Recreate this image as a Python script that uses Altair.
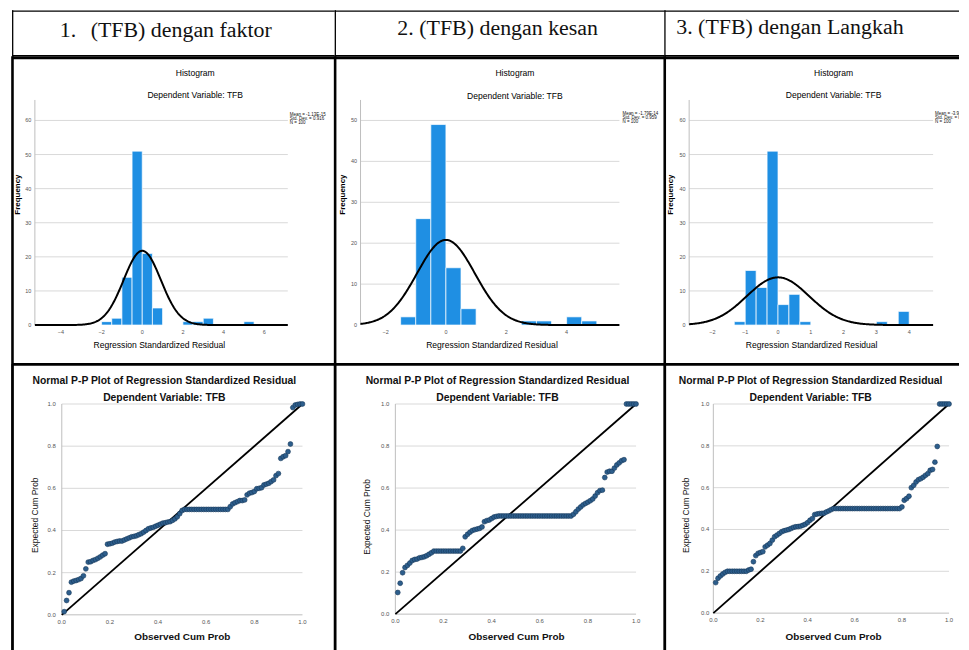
import altair as alt
import pandas as pd

# ---------------- text ----------------
HEAD_NUM = ["1.", "2.", "3."]
HEAD_TXT = ["(TFB) dengan faktor", "(TFB) dengan kesan", "(TFB) dengan Langkah"]
HIST_TITLE = "Histogram"
DEP_TITLE = "Dependent Variable: TFB"
HIST_XTITLE = "Regression Standardized Residual"
HIST_YTITLE = "Frequency"
PP_TITLE = "Normal P-P Plot of Regression Standardized Residual"
PP_XTITLE = "Observed Cum Prob"
PP_YTITLE = "Expected Cum Prob"

# ---------------- histogram data ----------------
h1_start = [-2.0, -1.5, -1.0, -0.5, 0.0, 0.5, 2.0, 2.5, 3.0, 5.0]
h1_count = [1, 2, 14, 51, 21, 5, 1, 1, 2, 1]
h1_binw = 0.5
h1_mean, h1_sd, h1_n = -1.13e-15, 0.916, 100
h1_stats = ["Mean = -1.13E-15", "Std. Dev. = 0.916", "N = 100"]
h1_xticks = [-4, -2, 0, 2, 4, 6]
h1_yticks = [0, 10, 20, 30, 40, 50, 60]

h2_start = [-1.5, -1.0, -0.5, 0.0, 0.5, 2.5, 3.0, 4.0, 4.5]
h2_count = [2, 26, 49, 14, 4, 1, 1, 2, 1]
h2_binw = 0.5
h2_mean, h2_sd, h2_n = -1.79e-14, 0.959, 100
h2_stats = ["Mean = -1.79E-14", "Std. Dev. = 0.959", "N = 100"]
h2_xticks = [-2, 0, 2, 4]
h2_yticks = [0, 10, 20, 30, 40, 50]

h3_start = [-1.333, -1.0, -0.667, -0.333, 0.0, 0.333, 0.667, 3.0, 3.667]
h3_count = [1, 16, 11, 51, 6, 9, 1, 1, 4]
h3_binw = 0.333
h3_mean, h3_sd, h3_n = -3.90e-15, 0.950, 100
h3_stats = ["Mean = -3.90E-15", "Std. Dev. = 0.950", "N = 100"]
h3_xticks = [-2, -1, 0, 1, 2, 3, 4]
h3_yticks = [0, 10, 20, 30, 40, 50, 60]

# ---------------- P-P plot data (expected cum prob, in rank order) ----------------
pp1_expected = (
    [0.015, 0.068, 0.105, 0.155, 0.160, 0.163, 0.167, 0.172, 0.185, 0.218,
     0.250, 0.252, 0.258, 0.262, 0.268, 0.275, 0.283, 0.290, 0.335, 0.337,
     0.340, 0.345, 0.348, 0.350, 0.350, 0.355, 0.360, 0.365, 0.370, 0.372,
     0.375, 0.380, 0.385, 0.392, 0.400, 0.408, 0.412, 0.415, 0.420, 0.425,
     0.430, 0.435, 0.437, 0.440, 0.442, 0.448, 0.455, 0.465, 0.480, 0.495]
    + [0.500] * 19
    + [0.513, 0.526, 0.532, 0.537, 0.542, 0.542, 0.545, 0.569, 0.577, 0.580,
       0.585, 0.598, 0.600, 0.603, 0.616, 0.620, 0.624, 0.632, 0.640, 0.660,
       0.670, 0.742, 0.750, 0.755, 0.774, 0.810, 0.983, 0.995, 0.998, 1.000,
       1.000]
)
pp2_expected = (
    [0.103, 0.147, 0.197, 0.222, 0.232, 0.243, 0.255, 0.260, 0.262, 0.268,
     0.270, 0.273, 0.278, 0.285, 0.292]
    + [0.300] * 12
    + [0.313, 0.368, 0.380, 0.390, 0.398, 0.402, 0.405, 0.408, 0.415, 0.440,
       0.445, 0.448, 0.455, 0.462, 0.465]
    + [0.467] * 31
    + [0.475, 0.487, 0.500, 0.510, 0.520, 0.527, 0.533, 0.540, 0.548, 0.562,
       0.578, 0.588, 0.590, 0.650, 0.676, 0.680, 0.680, 0.695, 0.710, 0.720,
       0.730, 0.735]
    + [1.000] * 5
)
pp3_expected = (
    [0.146, 0.167, 0.178, 0.187, 0.195]
    + [0.200] * 9
    + [0.206, 0.210, 0.246, 0.275, 0.286, 0.290, 0.294, 0.317, 0.325, 0.333,
       0.349, 0.365, 0.373, 0.381, 0.389, 0.394, 0.397, 0.400, 0.405, 0.410,
       0.413, 0.414, 0.416, 0.420, 0.425, 0.433, 0.444, 0.452, 0.471, 0.474,
       0.476, 0.477, 0.478, 0.484, 0.489, 0.495]
    + [0.500] * 29
    + [0.508, 0.540, 0.548, 0.559, 0.600, 0.611, 0.627, 0.638, 0.643, 0.650,
       0.659, 0.667, 0.683, 0.687, 0.722, 0.797]
    + [1.000] * 5
)
pp_ticks = [0.0, 0.2, 0.4, 0.6, 0.8, 1.0]

# ---------------- style ----------------
F_SERIF = "Liberation Serif, Times New Roman, serif"
F_SANS = "Liberation Sans, Arial, sans-serif"
BAR = "#1f8fe3"
GRID = "#d9d9d9"
AXL = "#bdbdbd"
PT_FILL = "#2d5e8c"
PT_STROKE = "#163859"
TXT = "#111111"
TICK = "#555555"
ONE = alt.Data(values=[{"a": 1}])

COLW = [324, 331, 296]
HH, HISTH, PPH = 46, 309, 295


def txt(s, x, y, size, font, weight="normal", align="center", angle=0,
        color=TXT, baseline="middle", clip=False):
    return alt.Chart(ONE).mark_text(
        text=s, fontSize=size, font=font, fontWeight=weight, align=align,
        baseline=baseline, angle=angle, color=color, clip=clip
    ).encode(x=alt.value(x), y=alt.value(y))


def hline(y, x1, x2, w, color="black"):
    return alt.Chart(ONE).mark_rule(color=color, strokeWidth=w).encode(
        y=alt.value(y), x=alt.value(x1), x2=alt.value(x2))


def vline(x, y1, y2, w, color="black"):
    return alt.Chart(ONE).mark_rule(color=color, strokeWidth=w).encode(
        x=alt.value(x), y=alt.value(y1), y2=alt.value(y2))


def full_scales(W, H, plot, xdom, ydom):
    pl, pr, pt, pb = plot
    d0, d1 = xdom
    e0, e1 = ydom
    kx = (d1 - d0) / (pr - pl)
    ky = (e1 - e0) / (pb - pt)
    xs = alt.Scale(domain=[d0 - pl * kx, d1 + (W - pr) * kx], nice=False, zero=False)
    ys = alt.Scale(domain=[e0 - (H - pb) * ky, e1 + pt * ky], nice=False, zero=False)
    return xs, ys


def tick_labels(xs, ys, xticks, yticks, x_at, y_at, fmt, size, dy, dx, font):
    xl = alt.Chart(pd.DataFrame({"v": xticks})).mark_text(
        fontSize=size, font=font, color=TICK, dy=dy, baseline="middle", align="center"
    ).encode(x=alt.X("v:Q", scale=xs, axis=None), y=alt.Y(datum=y_at, scale=ys, axis=None),
             text=alt.Text("v:Q", format=fmt))
    yl = alt.Chart(pd.DataFrame({"v": yticks})).mark_text(
        fontSize=size, font=font, color=TICK, dx=dx, baseline="middle", align="right"
    ).encode(x=alt.X(datum=x_at, scale=xs, axis=None), y=alt.Y("v:Q", scale=ys, axis=None),
             text=alt.Text("v:Q", format=fmt))
    return [xl, yl]


# ---------------- header cells ----------------
def header_cell(i, W, numx, txtx, base):
    layers = [
        hline(0.75, 0, W, 1.3), vline(0.7, 0, HH, 1.3), hline(45.5, 0, W, 1.3),
        txt(HEAD_NUM[i], numx, base, 22, F_SERIF, align="left", baseline="alphabetic"),
        txt(HEAD_TXT[i], txtx, base, 22, F_SERIF, align="left", baseline="alphabetic"),
    ]
    return alt.layer(*layers).properties(width=W, height=HH)


headers = [
    header_cell(0, COLW[0], 48, 79, 27),
    header_cell(1, COLW[1], 63, 85, 25),
    header_cell(2, COLW[2], 12, 34, 24),
]


# ---------------- histogram cells ----------------
def hist_cell(W, starts, counts, bw, mean, sd, n, stats, xticks, yticks,
              plot, xdom, ymax, tx, xt_x, fx, legx, legy, depy):
    H = HISTH
    pl, pr, pt, pb = plot
    xs, ys = full_scales(W, H, plot, xdom, [0, ymax])
    d0, d1 = xdom
    grid = alt.Chart(pd.DataFrame({"v": yticks[1:]})).mark_rule(
        color=GRID, strokeWidth=1).encode(
        y=alt.Y("v:Q", scale=ys, axis=None),
        x=alt.X(datum=d0, scale=xs, axis=None), x2=alt.X2(datum=d1))
    yaxis_line = alt.Chart(ONE).mark_rule(color=AXL, strokeWidth=1).encode(
        x=alt.X(datum=d0, scale=xs, axis=None),
        y=alt.Y(datum=0, scale=ys, axis=None), y2=alt.Y2(datum=ymax))
    bars = alt.Chart(pd.DataFrame({"start": starts, "count": counts})).transform_calculate(
        end=f"datum.start + {bw}"
    ).mark_bar(color=BAR, stroke="white", strokeWidth=0.7).encode(
        x=alt.X("start:Q", scale=xs, axis=None),
        x2="end:Q",
        y=alt.Y("count:Q", scale=ys, axis=None),
        y2=alt.Y2(datum=0),
    )
    curve = alt.Chart(alt.sequence(d0, d1 + 0.01, (d1 - d0) / 300, as_="x")).transform_calculate(
        y=f"{n}*{bw}*exp(-0.5*pow((datum.x-({mean}))/{sd},2))/({sd}*sqrt(2*PI))"
    ).mark_line(color="black", strokeWidth=2).encode(
        x=alt.X("x:Q", scale=xs, axis=None), y=alt.Y("y:Q", scale=ys, axis=None))
    ticks = tick_labels(xs, ys, xticks, yticks, d0, 0, "d", 5.5, 7, -3.5, F_SANS)
    texts = [
        txt(HIST_TITLE, tx, 17, 8.6, F_SANS, color="#000"),
        txt(DEP_TITLE, tx, depy, 8.6, F_SANS, color="#000"),
        txt(HIST_XTITLE, xt_x, 290, 8.6, F_SANS, color="#000"),
        txt(HIST_YTITLE, fx, 139, 8, F_SANS, weight="bold", angle=270, color="#000"),
    ]
    for k, s in enumerate(stats):
        texts.append(txt(s, legx, legy + 4 * k, 4.5, F_SANS, align="left", clip=True))
    borders = [hline(1.5, 0, W, 3), vline(0.5, 0, H, 2.6)]
    return alt.layer(grid, yaxis_line, bars, curve, *ticks, *texts, *borders).properties(
        width=W, height=H)


hists = [
    hist_cell(COLW[0], h1_start, h1_count, h1_binw, h1_mean, h1_sd, h1_n, h1_stats,
              h1_xticks, h1_yticks, (23, 277, 44, 270), (-5.28, 7.16), 66,
              184, 148, 6, 279, 59, 39),
    hist_cell(COLW[1], h2_start, h2_count, h2_binw, h2_mean, h2_sd, h2_n, h2_stats,
              h2_xticks, h2_yticks, (26, 286, 44, 270), (-2.83, 5.75), 55,
              181, 158, 8, 289, 58, 40),
    hist_cell(COLW[2], h3_start, h3_count, h3_binw, h3_mean, h3_sd, h3_n, h3_stats,
              h3_xticks, h3_yticks, (25, 270, 44, 270), (-2.71, 4.73), 66,
              170, 148, 7, 272, 58, 39),
]


# ---------------- P-P cells ----------------
def pp_cell(W, expected, plot, tx, xt_x, yt_x, yt_y, ylabpad):
    H = PPH
    pl, pr, pt, pb = plot
    xs, ys = full_scales(W, H, plot, [0, 1], [0, 1])
    n = len(expected)
    df = pd.DataFrame({"observed": [(i + 1) / n for i in range(n)], "expected": expected})
    grid = alt.Chart(pd.DataFrame({"v": pp_ticks[1:]})).mark_rule(
        color=GRID, strokeWidth=1).encode(
        y=alt.Y("v:Q", scale=ys, axis=None),
        x=alt.X(datum=0, scale=xs, axis=None), x2=alt.X2(datum=1))
    left_line = alt.Chart(ONE).mark_rule(color=AXL, strokeWidth=1).encode(
        x=alt.X(datum=0, scale=xs, axis=None),
        y=alt.Y(datum=0, scale=ys, axis=None), y2=alt.Y2(datum=1))
    bottom_line = alt.Chart(ONE).mark_rule(color=AXL, strokeWidth=1).encode(
        y=alt.Y(datum=0, scale=ys, axis=None),
        x=alt.X(datum=0, scale=xs, axis=None), x2=alt.X2(datum=1))
    diag = alt.Chart(ONE).mark_rule(color="black", strokeWidth=1.8).encode(
        x=alt.X(datum=0, scale=xs, axis=None), y=alt.Y(datum=0, scale=ys, axis=None),
        x2=alt.X2(datum=1), y2=alt.Y2(datum=1))
    pts = alt.Chart(df).mark_circle(
        size=24, color=PT_FILL, opacity=1, stroke=PT_STROKE, strokeWidth=0.6).encode(
        x=alt.X("observed:Q", scale=xs, axis=None),
        y=alt.Y("expected:Q", scale=ys, axis=None),
    )
    ticks = tick_labels(xs, ys, pp_ticks, pp_ticks, 0, 0, ".1f", 6, 7, -ylabpad, F_SANS)
    texts = [
        txt(PP_TITLE, tx, 17, 10.4, F_SANS, weight="bold"),
        txt(DEP_TITLE, tx, 34, 10.4, F_SANS, weight="bold"),
        txt(PP_XTITLE, xt_x, 274, 10, F_SANS, weight="bold"),
        txt(PP_YTITLE, yt_x, yt_y, 8.5, F_SANS, angle=270),
    ]
    borders = [hline(0.5, 0, W, 3), vline(0.5, 0, H, 2.8)]
    return alt.layer(grid, left_line, bottom_line, diag, pts, *ticks, *texts, *borders).properties(
        width=W, height=H)


pps = [
    pp_cell(COLW[0], pp1_expected, (50, 291.7, 40.3, 252), 153, 171, 23, 152, 6),
    pp_cell(COLW[1], pp2_expected, (61, 302.7, 40.3, 251.3), 163.5, 182.7, 32.7, 153.7, 6),
    pp_cell(COLW[2], pp3_expected, (49.3, 286, 40.3, 250.3), 147, 170, 21.7, 152, 4),
]

chart = alt.concat(*headers, *hists, *pps, columns=3, spacing=0, bounds="flush").properties(
    padding={"left": 2, "top": 0, "right": 0, "bottom": 0}
).configure_view(stroke=None)

chart.save("out.html", embed_options={"renderer": "svg", "actions": False})
